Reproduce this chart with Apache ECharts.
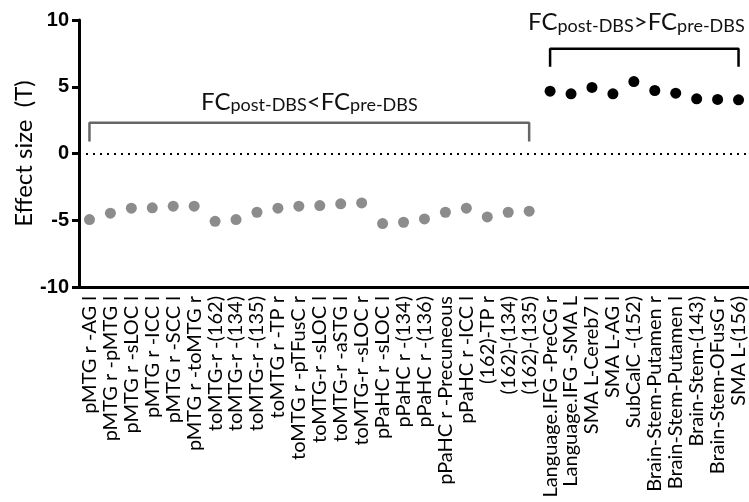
<!DOCTYPE html>
<html><head><meta charset="utf-8">
<script src="https://cdn.jsdelivr.net/npm/echarts@6/dist/echarts.min.js"></script>
<style>html,body{margin:0;padding:0;background:#fff}#c{width:749px;height:502px}</style>
</head><body><div id="c"></div>
<script>
var categories = ['pMTG r -AG l','pMTG r -pMTG l','pMTG r -sLOC l','pMTG r -ICC l','pMTG r -SCC l','pMTG r -toMTG r',
'toMTG-r -(162)','toMTG-r -(134)','toMTG-r -(135)','toMTG r -TP r','toMTG r -pTFusC r','toMTG-r -sLOC l','toMTG-r -aSTG l','toMTG-r -sLOC r',
'pPaHC r -sLOC l','pPaHC r -(134)','pPaHC r -(136)','pPaHC r -Precuneous','pPaHC r -ICC l','(162)-TP r','(162)-(134)','(162)-(135)',
'Language.IFG -PreCG r','Language.IFG -SMA L','SMA L-Cereb7 l','SMA L-AG l','SubCalC -(152)','Brain-Stem-Putamen r','Brain-Stem-Putamen l','Brain-Stem-(143)','Brain-Stem-OFusG r','SMA L-(156)'];
var decreased = [-4.95,-4.47,-4.1,-4.07,-3.95,-3.95,-5.08,-4.95,-4.4,-4.1,-3.95,-3.9,-3.77,-3.7,-5.25,-5.15,-4.9,-4.4,-4.1,-4.75,-4.4,-4.32];
var increased = [4.67,4.47,4.95,4.47,5.39,4.72,4.52,4.1,4.05,4.02];
var yTicks = [-10,-5,0,5,10];
var bracketDown = {from:'pMTG r -AG l', to:'(162)-(135)', top:2.3, foot:0.9};
var bracketUp = {from:'Language.IFG -PreCG r', to:'SMA L-(156)', top:7.85, foot:6.5};

var decData = decreased.map(function(v,i){return [categories[i], v];});
var incData = increased.map(function(v,i){return [categories[decreased.length+i], v];});
function bracket(b){return [[b.from,b.foot],[b.from,b.top],[b.to,b.top],[b.to,b.foot]];}

var FONT = 'Lato';
var chart = echarts.init(document.getElementById('c'));
chart.setOption({
  animation:false,
  grid:{left:79, right:0, top:20, bottom:215, containLabel:false},
  xAxis:{type:'category', data:categories, boundaryGap:true,
    axisLine:{onZero:false, lineStyle:{color:'#000', width:3}},
    axisTick:{alignWithLabel:true, length:7, lineStyle:{color:'#000', width:2}},
    axisLabel:{rotate:90, interval:0, color:'#000', fontFamily:FONT, fontSize:20, margin:9}},
  yAxis:{type:'value', min:-10, max:10, interval:5,
    axisLine:{show:true, lineStyle:{color:'#000', width:3}},
    axisTick:{show:true, length:7, lineStyle:{color:'#000', width:3}},
    splitLine:{show:false},
    axisLabel:{color:'#000', fontFamily:'Liberation Sans', fontWeight:'bold', fontSize:20, margin:10,
      formatter:function(v){return yTicks.indexOf(v)>=0?String(v):'';}},
    name:'Effect size  (T)', nameLocation:'middle', nameGap:43, nameRotate:90, nameMoveOverlap:false,
    nameTextStyle:{color:'#000', fontFamily:FONT, fontSize:24}},
  series:[
    {type:'scatter', data:decData, symbolSize:11, itemStyle:{color:'#8c8c8c', opacity:1}, z:3,
      markLine:{silent:true, symbol:'none', label:{show:false},
        lineStyle:{color:'#000', type:[2,5], width:2}, data:[{yAxis:0}]}},
    {type:'scatter', data:incData, symbolSize:11, itemStyle:{color:'#000', opacity:1}, z:3},
    {type:'line', data:bracket(bracketDown), symbol:'none', lineStyle:{color:'#666', width:2.5}},
    {type:'line', data:bracket(bracketUp), symbol:'none', lineStyle:{color:'#000', width:2.5}}
  ]
});

function labelAt(catA, catB, yv, dy, dx, sign, color){
  var p1 = chart.convertToPixel({gridIndex:0}, [catA, yv]);
  var p2 = chart.convertToPixel({gridIndex:0}, [catB, yv]);
  return {type:'text', x:(p1[0]+p2[0])/2+dx, y:p1[1]+dy,
    style:{text:'{b|FC}{s|post-DBS}{b|'+sign+'FC}{s|pre-DBS}', align:'center', verticalAlign:'bottom',
      rich:{b:{fontFamily:FONT, fontSize:24, fill:color, color:color, verticalAlign:'bottom', lineHeight:28},
            s:{fontFamily:FONT, fontSize:18, fill:color, color:color, verticalAlign:'bottom', lineHeight:19}}}};
}
chart.setOption({graphic:[
  labelAt(bracketDown.from, bracketDown.to, bracketDown.top, -9, 0, '<', '#111'),
  labelAt(bracketUp.from, bracketUp.to, bracketUp.top, -14, -8, '>', '#111')
]});
</script></body></html>
